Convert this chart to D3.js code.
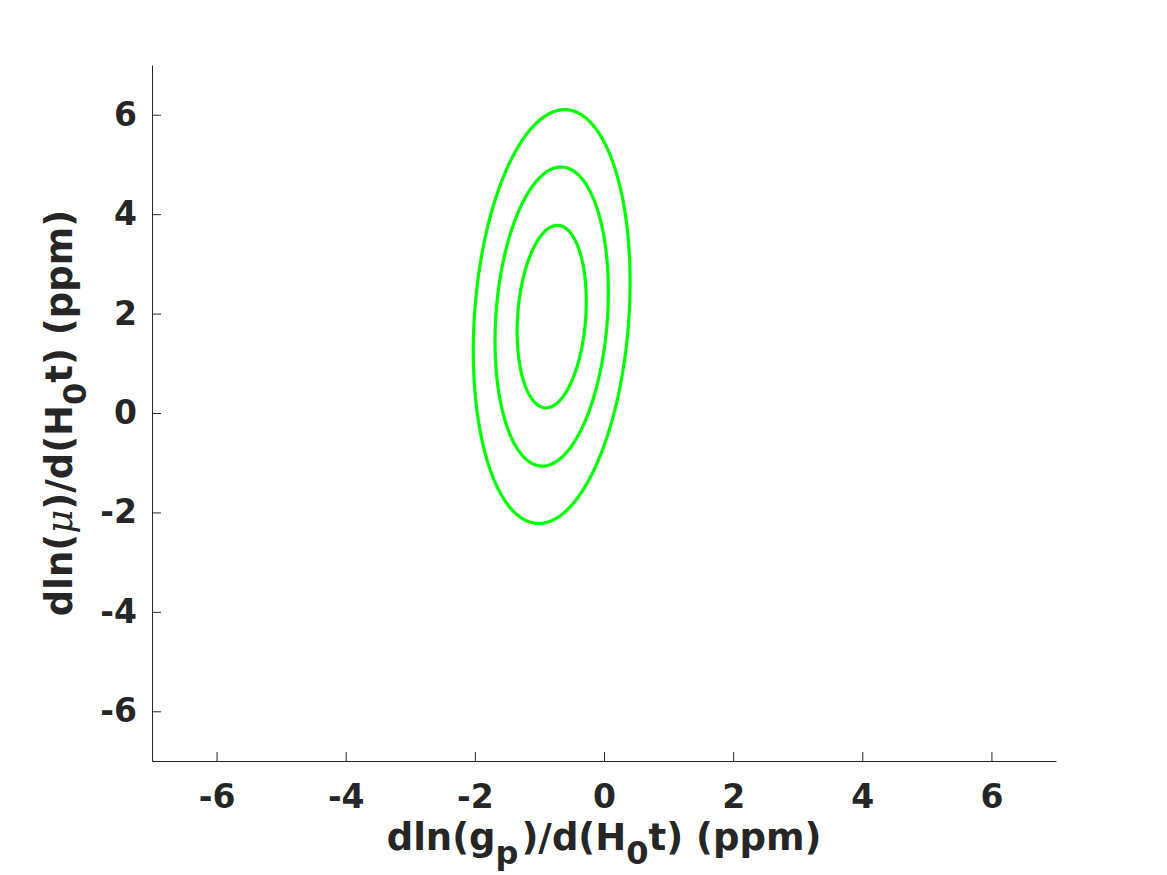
<!DOCTYPE html>
<meta charset="utf-8">
<style>
    body { margin: 0; background: #fff; }
    text { font-family: "DejaVu Sans", sans-serif; font-weight: bold; fill: #262626; }
    .axis path, .axis line { stroke: #262626; }
</style>
<body>
<svg id="chart" width="1167" height="875"></svg>
<script src="https://d3js.org/d3.v7.min.js"></script>
<script>
// Gaussian posterior
var center = [-0.81, 1.94];      // [x, y]
var sigma = [0.353, 1.21];       // [sigma_x, sigma_y]
var rho = 0.165;                 // correlation
var levels = [2.30, 6.18, 11.83];  // delta chi^2 for 1, 2, 3 sigma in 2D
var xTicks = [-6, -4, -2, 0, 2, 4, 6];
var yTicks = [-6, -4, -2, 0, 2, 4, 6];

var svg = d3.select("#chart");
var margin = {left: 152, right: 111, top: 65, bottom: 114};
var width = 1167 - margin.left - margin.right,
    height = 875 - margin.top - margin.bottom;

var x = d3.scaleLinear().domain([-7, 7]).range([margin.left, margin.left + width]);
var y = d3.scaleLinear().domain([-7, 7]).range([margin.top + height, margin.top]);

// contours
var sxy = rho * sigma[0] * sigma[1];
var cov = [[sigma[0] * sigma[0], sxy], [sxy, sigma[1] * sigma[1]]];
// cholesky
var l11 = Math.sqrt(cov[0][0]),
    l21 = cov[1][0] / l11,
    l22 = Math.sqrt(cov[1][1] - l21 * l21);

var line = d3.line().x(function(d) { return x(d[0]); }).y(function(d) { return y(d[1]); });

levels.forEach(function(lv) {
    var k = Math.sqrt(lv), pts = [];
    for (var i = 0; i <= 200; i++) {
        var t = 2 * Math.PI * i / 200,
            u = Math.cos(t) * k, v = Math.sin(t) * k;
        pts.push([center[0] + l11 * u, center[1] + l21 * u + l22 * v]);
    }
    svg.append("path")
        .attr("d", line(pts))
        .attr("fill", "none")
        .attr("stroke", "#00ff00")
        .attr("stroke-width", 3.2);
});

// axes
var fmt = function(d) { return String(d); };
var xAxis = svg.append("g")
    .attr("class", "axis")
    .attr("transform", "translate(0," + (margin.top + height) + ")")
    .call(d3.axisBottom(x).tickValues(xTicks).tickFormat(fmt).tickSize(-9).tickPadding(24).tickSizeOuter(0));
xAxis.selectAll("text").style("font-size", "33px").attr("dy", "0.71em");

var yAxis = svg.append("g")
    .attr("class", "axis")
    .attr("transform", "translate(" + margin.left + ",0)")
    .call(d3.axisLeft(y).tickValues(yTicks).tickFormat(fmt).tickSize(-9).tickPadding(15).tickSizeOuter(0));
yAxis.selectAll("text").style("font-size", "33px");
svg.selectAll(".axis text").attr("fill", "#262626").style("font-family", "DejaVu Sans").style("font-weight", "bold");

// axis labels
var xl = svg.append("text")
    .attr("x", x(0))
    .attr("y", 850)
    .attr("text-anchor", "middle")
    .style("font-size", "37px");
xl.append("tspan").text("dln(g");
xl.append("tspan").text("p").attr("dy", 14).style("font-size", "32px");
xl.append("tspan").text(")/d(H").attr("dy", -14).attr("dx", 3);
xl.append("tspan").text("0").attr("dy", 14).style("font-size", "32px");
xl.append("tspan").text("t) (ppm)").attr("dy", -14);

var yl = svg.append("text")
    .attr("transform", "translate(72," + y(0) + ") rotate(-90)")
    .attr("text-anchor", "middle")
    .style("font-size", "37px");
yl.append("tspan").text("dln(");
yl.append("tspan").text("μ").style("font-style", "italic").style("font-weight", "normal").style("font-family", "DejaVu Serif");
yl.append("tspan").text(")/d(H");
yl.append("tspan").text("0").attr("dy", 14).style("font-size", "32px");
yl.append("tspan").text("t) (ppm)").attr("dy", -14);
</script>
</body>
